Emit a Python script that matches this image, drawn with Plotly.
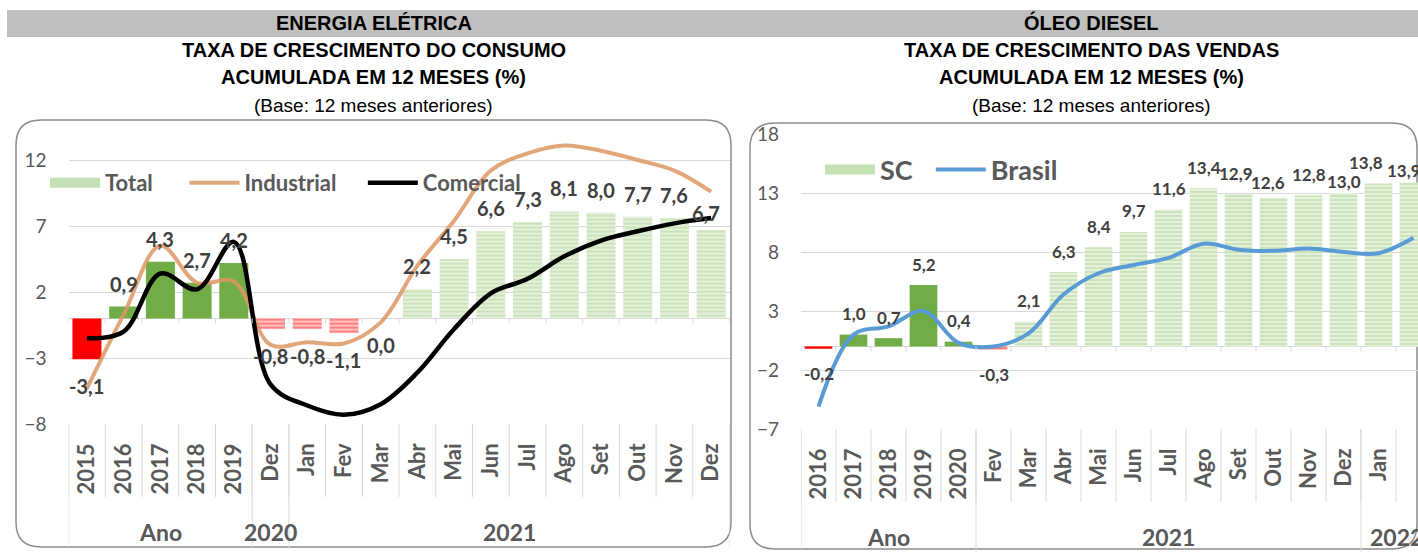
import plotly.graph_objects as go

W, H = 1418, 552

# ---- energia elétrica (left) ----
left_cats = ["2015", "2016", "2017", "2018", "2019", "Dez", "Jan", "Fev", "Mar",
             "Abr", "Mai", "Jun", "Jul", "Ago", "Set", "Out", "Nov", "Dez"]
left_groups = [("Ano", 5), ("2020", 1), ("2021", 12)]
left_total = [-3.1, 0.9, 4.3, 2.7, 4.2, -0.8, -0.8, -1.1, 0.0,
              2.2, 4.5, 6.6, 7.3, 8.1, 8.0, 7.7, 7.6, 6.7]
left_industrial = [-5.3, 0.3, 5.5, 2.7, 2.8, -2.0, -1.8, -1.9, -0.3,
                   4.0, 7.4, 11.2, 12.5, 13.1, 12.7, 12.0, 11.2, 9.6]
left_comercial = [-1.5, -1.0, 3.4, 2.2, 5.8, -5.0, -6.6, -7.3, -6.5,
                  -4.1, -0.8, 1.9, 3.0, 4.7, 5.9, 6.6, 7.2, 7.6]

# ---- óleo diesel (right) ----
right_cats = ["2016", "2017", "2018", "2019", "2020", "Fev", "Mar", "Abr", "Mai",
              "Jun", "Jul", "Ago", "Set", "Out", "Nov", "Dez", "Jan", "Fev"]
right_groups = [("Ano", 5), ("2021", 11), ("2022", 2)]
right_sc = [-0.2, 1.0, 0.7, 5.2, 0.4, -0.3, 2.1, 6.3, 8.4,
            9.7, 11.6, 13.4, 12.9, 12.6, 12.8, 13.0, 13.8, 13.9]
right_brasil = [-5.1, 1.0, 1.7, 3.0, 0.3, 0.0, 1.1, 4.4, 6.2,
                6.9, 7.5, 8.7, 8.2, 8.1, 8.3, 8.0, 7.9, 9.2]

GREEN = "#70AD47"
GREEN_LT = "#96C775"
GREEN_LEG = "#C5E0B4"
RED = "#FF0000"
ORANGE = "rgba(221,150,100,0.85)"
BLUE = "#5B9BD5"
GRID = "#D9D9D9"
TXT = "#595959"
LBL = "#404040"
FONT = "Lato, 'Noto Sans', sans-serif"
TFONT = "'Liberation Sans Narrow', 'Arial Narrow', 'Liberation Sans', sans-serif"
NB = "\u00a0"


def px_x(x):
    return x / W


def px_y(y):
    return 1 - y / H


def fmt(v):
    return f"{v:.1f}".replace(".", ",")


def bar_traces(vals, groups, xa, ya):
    annual = []
    for name, n in groups:
        annual += [name == "Ano"] * n
    styles = {}
    for i, (v, a) in enumerate(zip(vals, annual)):
        key = ("solid" if a else "striped", v < 0)
        styles.setdefault(key, ([], []))
        styles[key][0].append(i)
        styles[key][1].append(v)
    out = []
    for (kind, neg), (xs, ys) in styles.items():
        if kind == "solid":
            marker = dict(color=RED if neg else GREEN, line_width=0)
        else:
            marker = dict(color="white", line_width=0,
                          pattern=dict(shape="-", fgcolor=RED if neg else GREEN_LT, bgcolor="white",
                                       fillmode="overlay", size=4, solidity=0.75))
        out.append(go.Bar(x=xs, y=ys, width=0.79, xaxis=xa, yaxis=ya, marker=marker,
                          showlegend=False, hoverinfo="skip"))
    return out


fig = go.Figure()

# left panel
fig.add_trace(go.Scatter(x=[None], y=[None], mode="lines", name="Total" + NB * 5, legend="legend",
                         line=dict(color=GREEN_LEG, width=12), xaxis="x", yaxis="y"))
for t in bar_traces(left_total, left_groups, "x", "y"):
    fig.add_trace(t)
idx_l = list(range(len(left_cats)))
fig.add_trace(go.Scatter(x=idx_l, y=left_industrial, mode="lines", name="Industrial" + NB * 4,
                         legend="legend",
                         line=dict(color=ORANGE, width=4, shape="spline", smoothing=1),
                         xaxis="x", yaxis="y"))
fig.add_trace(go.Scatter(x=idx_l, y=left_comercial, mode="lines", name="Comercial", legend="legend",
                         line=dict(color="black", width=4.5, shape="spline", smoothing=1),
                         xaxis="x", yaxis="y"))

# right panel
fig.add_trace(go.Scatter(x=[None], y=[None], mode="lines", name="SC" + NB * 2, legend="legend2",
                         line=dict(color=GREEN_LEG, width=12), xaxis="x2", yaxis="y2"))
for t in bar_traces(right_sc, right_groups, "x2", "y2"):
    fig.add_trace(t)
idx_r = list(range(len(right_cats)))
fig.add_trace(go.Scatter(x=idx_r, y=right_brasil, mode="lines", name="Brasil", legend="legend2",
                         line=dict(color=BLUE, width=4, shape="spline", smoothing=1),
                         xaxis="x2", yaxis="y2"))

annotations = []
shapes = []

# data labels
left_nudge = {17: (-5, -6)}
right_nudge = {12: (-3, 0), 13: (-6, -6), 15: (0, -10), 16: (-13, 0), 17: (-10, -9)}
for vals, xr, yr, up, down, size, nudge in [
    (left_total, "x", "y", 23, -27, 20, left_nudge),
    (right_sc, "x2", "y2", 21, -25, 17, right_nudge),
]:
    for i, v in enumerate(vals):
        dx, dy = nudge.get(i, (0, 0))
        annotations.append(dict(
            x=i, y=v, xref=xr, yref=yr, text=fmt(v), showarrow=False,
            yshift=(up if v > 0 else down) + dy, xshift=dx,
            font=dict(family=FONT, size=size, color=LBL, weight="bold")))

# group labels, separators, dividers
for cats, groups, xr, yr in [(left_cats, left_groups, "x", "y"), (right_cats, right_groups, "x2", "y2")]:
    n = len(cats)
    for b in range(n + 1):
        shapes.append(dict(type="line", xref=xr, yref=yr, x0=b - 0.5, x1=b - 0.5,
                           ysizemode="pixel", yanchor=0, y0=0, y1=-5,
                           line=dict(color=GRID, width=1)))
        shapes.append(dict(type="line", xref=xr, yref=yr + " domain", x0=b - 0.5, x1=b - 0.5,
                           ysizemode="pixel", yanchor=0, y0=0, y1=-73,
                           line=dict(color=GRID, width=1)))
    start = 0
    for name, cnt in groups:
        shapes.append(dict(type="line", xref=xr, yref=yr + " domain", x0=start - 0.5, x1=start - 0.5,
                           ysizemode="pixel", yanchor=0, y0=0, y1=-125,
                           line=dict(color=GRID, width=1)))
        annotations.append(dict(x=start + (cnt - 1) / 2, y=0, xref=xr, yref=yr + " domain",
                                yshift=-108, yanchor="middle", showarrow=False, text=name,
                                font=dict(family=FONT, size=23, color=TXT, weight="bold")))
        start += cnt
    shapes.append(dict(type="line", xref=xr, yref=yr + " domain", x0=start - 0.5, x1=start - 0.5,
                       ysizemode="pixel", yanchor=0, y0=0, y1=-125,
                       line=dict(color=GRID, width=1)))


def rounded_box(x0, y0, x1, y1, r):
    pts = [("M", x0 + r, y0), ("L", x1 - r, y0), ("Q", x1, y0, x1, y0 + r),
           ("L", x1, y1 - r), ("Q", x1, y1, x1 - r, y1), ("L", x0 + r, y1),
           ("Q", x0, y1, x0, y1 - r), ("L", x0, y0 + r), ("Q", x0, y0, x0 + r, y0)]
    path = ""
    for p in pts:
        cmd, coords = p[0], p[1:]
        s = " ".join(f"{px_x(coords[k]):.5f},{px_y(coords[k + 1]):.5f}" for k in range(0, len(coords), 2))
        path += f"{cmd} {s} "
    return dict(type="path", xref="paper", yref="paper", path=path + "Z",
                line=dict(color="#8C8C8C", width=1.5), layer="below")


shapes.append(dict(type="rect", xref="paper", yref="paper", x0=px_x(7), x1=1,
                   y0=px_y(37), y1=px_y(10), fillcolor="#BFBFBF", line_width=0, layer="below"))
shapes.append(rounded_box(16, 120, 731, 547, 25))
shapes.append(rounded_box(750, 123, 1417, 549, 25))

# titles
for cx, lines in [(374, ["ENERGIA ELÉTRICA", "TAXA DE CRESCIMENTO DO CONSUMO", "ACUMULADA EM 12 MESES (%)"]),
                  (1091, ["ÓLEO DIESEL", "TAXA DE CRESCIMENTO DAS VENDAS", "ACUMULADA EM 12 MESES (%)"])]:
    for txt, y in zip(lines, [23, 50, 77]):
        annotations.append(dict(x=px_x(cx), y=px_y(y), xref="paper", yref="paper", showarrow=False,
                                text=txt, xanchor="center", yanchor="middle",
                                font=dict(family=TFONT, size=20, color="black", weight="bold")))
    annotations.append(dict(x=px_x(cx), y=px_y(105), xref="paper", yref="paper", showarrow=False,
                            text="(Base: 12 meses anteriores)", xanchor="center", yanchor="middle",
                            font=dict(family=TFONT, size=19, color="black")))

xcommon = dict(showgrid=False, zeroline=False, showline=False, tickangle=-90, ticks="",
               ticklabelstandoff=14, automargin=False,
               tickfont=dict(family=FONT, size=22, color=TXT, weight="bold"), fixedrange=True)
ycommon = dict(showgrid=True, gridcolor=GRID, gridwidth=1, zeroline=True, zerolinecolor=GRID,
               zerolinewidth=1, showline=False, dtick=5, ticks="", ticklabelstandoff=21,
               automargin=False, tickfont=dict(family=FONT, size=19, color=TXT), fixedrange=True)

fig.update_layout(
    template="none",
    width=W, height=H, margin=dict(l=0, r=0, t=0, b=0, autoexpand=False),
    paper_bgcolor="white", plot_bgcolor="white", barmode="overlay",
    xaxis=dict(xcommon, domain=[px_x(68.6), px_x(729.5)], range=[-0.5, len(left_cats) - 0.5],
               tickmode="array", tickvals=idx_l, ticktext=left_cats, anchor="y"),
    yaxis=dict(ycommon, domain=[px_y(424), px_y(133.6)], range=[-8, 14], tick0=-8, anchor="x"),
    xaxis2=dict(xcommon, domain=[px_x(801), 1], range=[-0.5, (W - 801) / 35 - 0.5],
                tickmode="array", tickvals=idx_r, ticktext=right_cats, anchor="y2"),
    yaxis2=dict(ycommon, domain=[px_y(429), px_y(134)], range=[-7, 18], tick0=-7, anchor="x2"),
    legend=dict(orientation="h", x=px_x(45), y=px_y(183), xanchor="left", yanchor="middle",
                itemwidth=50, bgcolor="rgba(0,0,0,0)",
                font=dict(family=FONT, size=22, color=TXT, weight="bold")),
    legend2=dict(orientation="h", x=px_x(820), y=px_y(170), xanchor="left", yanchor="middle",
                 itemwidth=50, bgcolor="rgba(0,0,0,0)",
                 font=dict(family=FONT, size=27, color=TXT, weight="bold")),
    annotations=annotations, shapes=shapes,
)

# pin the graph to the window corner so page margins do not shift it
pin = ("document.body.style.margin='0';"
       "var g=document.getElementById('{plot_id}');"
       "g.style.position='fixed';g.style.left='0';g.style.top='0';")
fig.write_html("out.html", config={"displayModeBar": False}, post_script=pin)
